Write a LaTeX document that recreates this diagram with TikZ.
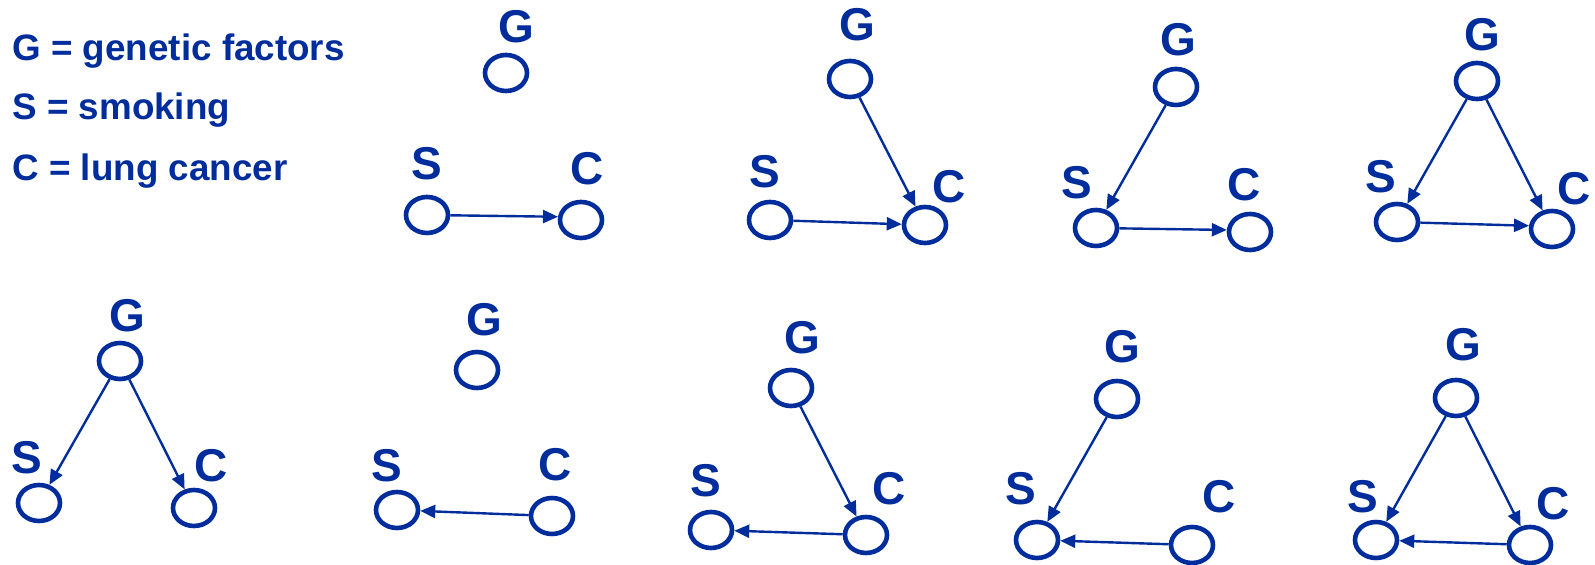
\documentclass[tikz,border=0pt]{standalone}
\usepackage{fontspec}
\setmainfont{Liberation Sans}
\usetikzlibrary{shapes.geometric,arrows.meta}
\definecolor{dagblue}{RGB}{0,45,155}
\begin{document}
\begin{tikzpicture}[x=0.5pt,y=-0.5pt,
  var/.style={ellipse,draw=dagblue,line width=2.3pt,minimum width=21pt,minimum height=18pt,inner sep=0pt},
  lbl/.style={text=dagblue,font=\fontsize{23}{27}\selectfont\bfseries,inner sep=0pt},
  legend/.style={text=dagblue,font=\fontsize{18.4}{22}\selectfont\bfseries,inner sep=0pt,anchor=base west},
  edge/.style={draw=dagblue,line width=1.2pt,-{Triangle[length=7.5pt,width=6.5pt]}}]
\useasboundingbox (0,0) rectangle (1595,565);

% legend
\node[legend] (leg1) at (12,61) {G = genetic factors};
\node[legend] (leg2) at (12,120) {S = smoking};
\node[legend] (leg3) at (12,181) {C = lung cancer};

% graph 1: S -> C
\node[var] (g1) at (506,73) {};   \node[lbl] (g1l) at (516,27) {G};
\node[var] (s1) at (427,215) {};  \node[lbl] (s1l) at (427,164) {S};
\node[var] (c1) at (581,220) {};  \node[lbl] (c1l) at (587,169) {C};
\draw[edge] (s1) -- (c1.172);

% graph 2: G -> C, S -> C
\node[var] (g2) at (850,79) {};   \node[lbl] (g2l) at (857,25) {G};
\node[var] (s2) at (770,220) {};  \node[lbl] (s2l) at (765,172) {S};
\node[var] (c2) at (925,225) {};  \node[lbl] (c2l) at (949,187) {C};
\draw[edge] (g2) -- (c2);
\draw[edge] (s2) -- (c2);

% graph 3: G -> S -> C
\node[var] (g3) at (1176,87) {};  \node[lbl] (g3l) at (1178,40) {G};
\node[var] (s3) at (1096,228) {}; \node[lbl] (s3l) at (1077,183) {S};
\node[var] (c3) at (1250,232) {}; \node[lbl] (c3l) at (1244,185) {C};
\draw[edge] (g3) -- (s3);
\draw[edge] (s3) -- (c3.175);

% graph 4: G -> S, G -> C, S -> C
\node[var] (g4) at (1477,81) {};  \node[lbl] (g4l) at (1482,35) {G};
\node[var] (s4) at (1397,222) {}; \node[lbl] (s4l) at (1381,177) {S};
\node[var] (c4) at (1552,229) {}; \node[lbl] (c4l) at (1574,189) {C};
\draw[edge] (g4) -- (s4);
\draw[edge] (g4) -- (c4);
\draw[edge] (s4) -- (c4.172);

% graph 5: G -> S, G -> C
\node[var] (g5) at (120,361) {};  \node[lbl] (g5l) at (127,316) {G};
\node[var] (s5) at (39,503) {};   \node[lbl] (s5l) at (27,458) {S};
\node[var] (c5) at (194,508) {};  \node[lbl] (c5l) at (211,466) {C};
\draw[edge] (g5) -- (s5);
\draw[edge] (g5) -- (c5);

% graph 6: C -> S
\node[var] (g6) at (477,370) {};  \node[lbl] (g6l) at (484,320) {G};
\node[var] (s6) at (397,510) {};  \node[lbl] (s6l) at (387,466) {S};
\node[var] (c6) at (552,516) {};  \node[lbl] (c6l) at (555,465) {C};
\draw[edge] (c6) -- (s6);

% graph 7: G -> C -> S
\node[var] (g7) at (791,388) {};  \node[lbl] (g7l) at (802,338) {G};
\node[var] (s7) at (711,530) {};  \node[lbl] (s7l) at (706,481) {S};
\node[var] (c7) at (866,535) {};  \node[lbl] (c7l) at (889,489) {C};
\draw[edge] (g7) -- (c7);
\draw[edge] (c7) -- (s7);

% graph 8: G -> S, C -> S
\node[var] (g8) at (1117,399) {}; \node[lbl] (g8l) at (1122,347) {G};
\node[var] (s8) at (1037,540) {}; \node[lbl] (s8l) at (1021,489) {S};
\node[var] (c8) at (1192,545) {}; \node[lbl] (c8l) at (1219,497) {C};
\draw[edge] (g8) -- (s8);
\draw[edge] (c8) -- (s8);

% graph 9: G -> S, G -> C, C -> S
\node[var] (g9) at (1456,398) {}; \node[lbl] (g9l) at (1463,345) {G};
\node[var] (s9) at (1376,540) {}; \node[lbl] (s9l) at (1363,497) {S};
\node[var] (c9) at (1530,545) {}; \node[lbl] (c9l) at (1553,504) {C};
\draw[edge] (g9) -- (s9);
\draw[edge] (g9) -- (c9);
\draw[edge] (c9) -- (s9);
\end{tikzpicture}
\end{document}
